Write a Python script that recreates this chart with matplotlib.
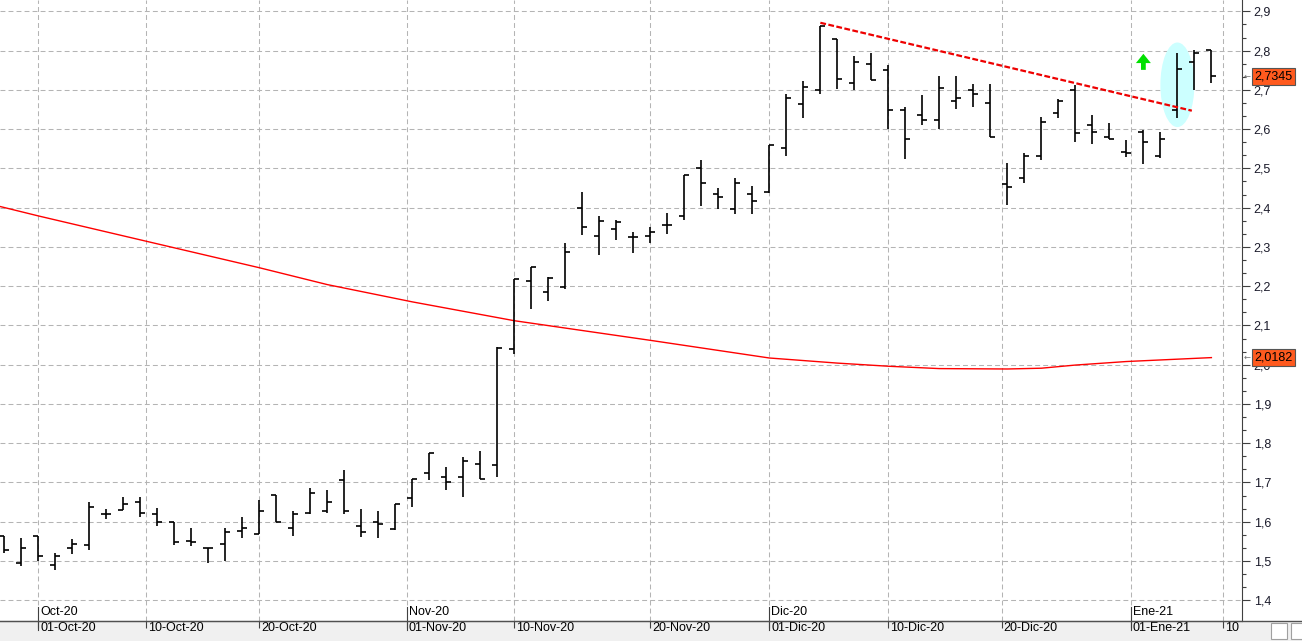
import numpy as np
import pandas as pd
import matplotlib
matplotlib.use('Agg')
import matplotlib.pyplot as plt
import matplotlib.transforms as mtransforms
from matplotlib.patches import Ellipse, Rectangle
from matplotlib.lines import Line2D
from matplotlib.ticker import FixedLocator, FuncFormatter

# daily OHLC, 29-Sep-20 .. 08-Jan-21
opens = [1.563, 1.495, 1.564, 1.490, 1.534, 1.541, 1.620, 1.631, 1.649, 1.619,
         1.598, 1.550, 1.533, 1.544, 1.577, 1.569, 1.668, 1.585, 1.622, 1.628,
         1.706, 1.590, 1.598, 1.581, 1.660, 1.724, 1.713, 1.713, 1.746, 1.744,
         2.039, 2.214, 2.184, 2.199, 2.398, 2.327, 2.345, 2.324, 2.327, 2.357,
         2.380, 2.500, 2.436, 2.396, 2.436, 2.439, 2.553, 2.663, 2.699, 2.830,
         2.718, 2.765, 2.750, 2.648, 2.635, 2.623, 2.671, 2.699, 2.666, 2.460,
         2.475, 2.532, 2.640, 2.699, 2.610, 2.580, 2.541, 2.592, 2.532, 2.649,
         2.770, 2.801]
highs = [1.563, 1.559, 1.564, 1.521, 1.556, 1.651, 1.633, 1.664, 1.662, 1.636,
         1.598, 1.585, 1.533, 1.585, 1.613, 1.655, 1.668, 1.626, 1.687, 1.680,
         1.732, 1.632, 1.628, 1.645, 1.708, 1.775, 1.739, 1.764, 1.780, 2.046,
         2.217, 2.250, 2.224, 2.309, 2.439, 2.378, 2.368, 2.338, 2.351, 2.386,
         2.482, 2.521, 2.449, 2.475, 2.455, 2.559, 2.689, 2.723, 2.863, 2.830,
         2.786, 2.793, 2.763, 2.657, 2.687, 2.735, 2.735, 2.715, 2.715, 2.514,
         2.538, 2.630, 2.677, 2.712, 2.635, 2.615, 2.572, 2.598, 2.592, 2.793,
         2.802, 2.801]
lows = [1.519, 1.486, 1.501, 1.478, 1.518, 1.527, 1.608, 1.629, 1.612, 1.589,
        1.540, 1.538, 1.495, 1.501, 1.558, 1.568, 1.600, 1.563, 1.620, 1.622,
        1.619, 1.561, 1.558, 1.578, 1.638, 1.705, 1.681, 1.664, 1.710, 1.715,
        2.027, 2.143, 2.163, 2.192, 2.331, 2.280, 2.318, 2.285, 2.310, 2.334,
        2.368, 2.404, 2.396, 2.385, 2.385, 2.437, 2.532, 2.629, 2.690, 2.702,
        2.700, 2.724, 2.600, 2.525, 2.611, 2.600, 2.652, 2.657, 2.579, 2.408,
        2.464, 2.522, 2.629, 2.566, 2.563, 2.575, 2.530, 2.512, 2.527, 2.629,
        2.700, 2.718]
closes = [1.527, 1.534, 1.513, 1.513, 1.542, 1.638, 1.620, 1.646, 1.622, 1.600,
          1.547, 1.549, 1.533, 1.574, 1.585, 1.628, 1.600, 1.619, 1.673, 1.651,
          1.627, 1.574, 1.593, 1.645, 1.708, 1.775, 1.701, 1.754, 1.710, 2.042,
          2.217, 2.250, 2.222, 2.286, 2.350, 2.367, 2.363, 2.324, 2.338, 2.356,
          2.482, 2.462, 2.426, 2.464, 2.416, 2.559, 2.679, 2.707, 2.863, 2.727,
          2.770, 2.724, 2.648, 2.574, 2.623, 2.704, 2.679, 2.689, 2.579, 2.452,
          2.531, 2.619, 2.672, 2.589, 2.592, 2.575, 2.538, 2.566, 2.575, 2.752,
          2.793, 2.7345]

# long moving average, sampled at some bars
ma_idx = [-1, 2, 8, 15, 19, 24, 30, 38, 45, 49, 52, 55, 59, 61, 63, 66, 69, 71]
ma_val = [2.411, 2.379, 2.318, 2.247, 2.204, 2.160, 2.112, 2.062, 2.017, 2.004,
          1.996, 1.990, 1.989, 1.991, 1.999, 2.008, 2.014, 2.018]

last_price = 2.7345
last_ma = 2.0182

# hand drawn trend line + marks
trend_x = [48, 69.85]
trend_y = [2.871, 2.647]
ellipse_xy = (69.0, 2.713)
ellipse_w, ellipse_h = 2.0, 0.2155
arrow_x, arrow_y0, arrow_y1 = 67.0, 2.751, 2.792

holidays = ['2020-12-25', '2021-01-01']
day_ticks = ['2020-10-01', '2020-10-10', '2020-10-20', '2020-11-01', '2020-11-10',
             '2020-11-20', '2020-12-01', '2020-12-10', '2020-12-20', '2021-01-01',
             '2021-01-10']
day_labels = ['01-Oct-20', '10-Oct-20', '20-Oct-20', '01-Nov-20', '10-Nov-20',
              '20-Nov-20', '01-Dic-20', '10-Dic-20', '20-Dic-20', '01-Ene-21', '10']
month_ticks = ['2020-10-01', '2020-11-01', '2020-12-01', '2021-01-01']
month_labels = ['Oct-20', 'Nov-20', 'Dic-20', 'Ene-21']

# trading calendar -> bar index
days = pd.bdate_range('2020-09-29', '2021-01-11')
days = days[~days.isin(pd.to_datetime(holidays))]
day_ord = [d.toordinal() for d in days]


def date_pos(d):
    return float(np.interp(pd.Timestamp(d).toordinal(), day_ord, np.arange(len(days))))


W, H = 1302, 641
fig = plt.figure(figsize=(W / 100, H / 100), dpi=100)
fig.patch.set_facecolor('white')
band = 20 / H
fig.add_artist(Rectangle((0, 0), 1, band, transform=fig.transFigure,
                         fc='#f0f0f0', ec='none', zorder=0))
ax = fig.add_axes([0, band, 1242 / W, 1 - band])

idx = np.arange(len(opens))
tl = 0.3
ax.vlines(idx, lows, highs, color='black', lw=1.2, zorder=4)
ax.hlines(opens, idx - tl, idx, color='black', lw=1.2, zorder=4)
ax.hlines(closes, idx, idx + tl, color='black', lw=1.2, zorder=4)

ax.plot(ma_idx, ma_val, color='#ff0000', lw=1.0, zorder=3)

ax.add_patch(Ellipse(ellipse_xy, ellipse_w, ellipse_h, fc='#ccffff', ec='none', zorder=2))
ax.plot(trend_x, trend_y, color='#ee0000', lw=1.6, linestyle=(0, (2.6, 1.1)), zorder=5)
ax.arrow(arrow_x, arrow_y0, 0, arrow_y1 - arrow_y0, width=0.28, head_width=0.88,
         head_length=0.0237, length_includes_head=True, fc='#00e000', ec='none', zorder=5)

ax.set_xlim(-0.25, 72.8)
ax.set_ylim(1.347, 2.929)

# y axis on the right
yt = np.round(np.arange(1.4, 2.95, 0.1), 1)
ax.yaxis.tick_right()
ax.yaxis.set_major_locator(FixedLocator(yt))
ax.yaxis.set_minor_locator(FixedLocator(np.concatenate([yt[:-1] + 0.1 / 3, yt[:-1] + 0.2 / 3, [yt[-1] + 0.1 / 3]])))
ax.yaxis.set_major_formatter(FuncFormatter(lambda v, p: f'{v:.1f}'.replace('.', ',')))
ax.tick_params(axis='y', which='major', length=6, width=0.8, color='#404040', pad=2.5,
               labelsize=9, labelcolor='#1a1a2a')
ax.tick_params(axis='y', which='minor', length=3, width=0.8, color='#404040')
for lab in ax.get_yticklabels():
    lab.set_family(['Liberation Sans', 'DejaVu Sans'])

# x axis: date ticks
xpos = [date_pos(d) for d in day_ticks]
ax.set_xticks(xpos)
ax.tick_params(axis='x', length=5, width=0.8, color='#404040', labelbottom=False)
ax.grid(True, color='#b4b4b4', linestyle=(0, (4.7, 3)), lw=0.75, zorder=1)
ax.set_axisbelow(True)

for s in ['top', 'left']:
    ax.spines[s].set_visible(False)
ax.spines['right'].set_color('#404040')
ax.spines['bottom'].set_color('#505050')

datefont = ['Liberation Sans', 'DejaVu Sans']
for p, lab in zip(xpos, day_labels):
    ax.annotate(lab, xy=(p, 0), xycoords=('data', 'axes fraction'), xytext=(2, -1),
                textcoords='offset pixels', ha='left', va='top', fontsize=9,
                family=datefont, color='black', annotation_clip=False)

btrans = mtransforms.blended_transform_factory(ax.transData, ax.transAxes)
axh = 621
for d, lab in zip(month_ticks, month_labels):
    p = date_pos(d)
    ax.plot([p, p], [-9 / axh, 14 / axh], transform=btrans, color='#404040', lw=0.8, clip_on=False)
    ax.annotate(lab, xy=(p, 0), xycoords=('data', 'axes fraction'), xytext=(2, 3),
                textcoords='offset pixels', ha='left', va='bottom', fontsize=9,
                family=datefont, color='black', annotation_clip=False)

fig.add_artist(Line2D([0, 1], [band, band], transform=fig.transFigure, color='#505050', lw=1))

# last value boxes on the price axis
for v in [last_price, last_ma]:
    txt = f'{v:.4f}'.replace('.', ',')
    ax.annotate(txt, xy=(1, v), xycoords=('axes fraction', 'data'), xytext=(12, 0),
                textcoords='offset pixels', ha='left', va='center', fontsize=9,
                family=['Liberation Sans', 'DejaVu Sans'], color='black',
                bbox=dict(boxstyle='square,pad=0.2', fc='#ff5a1e', ec='#555555', lw=0.8),
                annotation_clip=False, zorder=6)
    ax.annotate('←', xy=(1, v), xycoords=('axes fraction', 'data'), xytext=(2, 0),
                textcoords='offset pixels', ha='left', va='center', fontsize=6,
                color='#707070', annotation_clip=False)

# little buttons in the corner
fig.add_artist(Rectangle((1271 / W, 2 / H), 16 / W, 16 / H, transform=fig.transFigure,
                         fc='white', ec='#a0a0a0', lw=0.8))
fig.add_artist(Rectangle((1291 / W, 2 / H), 14 / W, 16 / H, transform=fig.transFigure,
                         fc='white', ec='#a0a0a0', lw=0.8))

fig.savefig('out.png', dpi=100)
